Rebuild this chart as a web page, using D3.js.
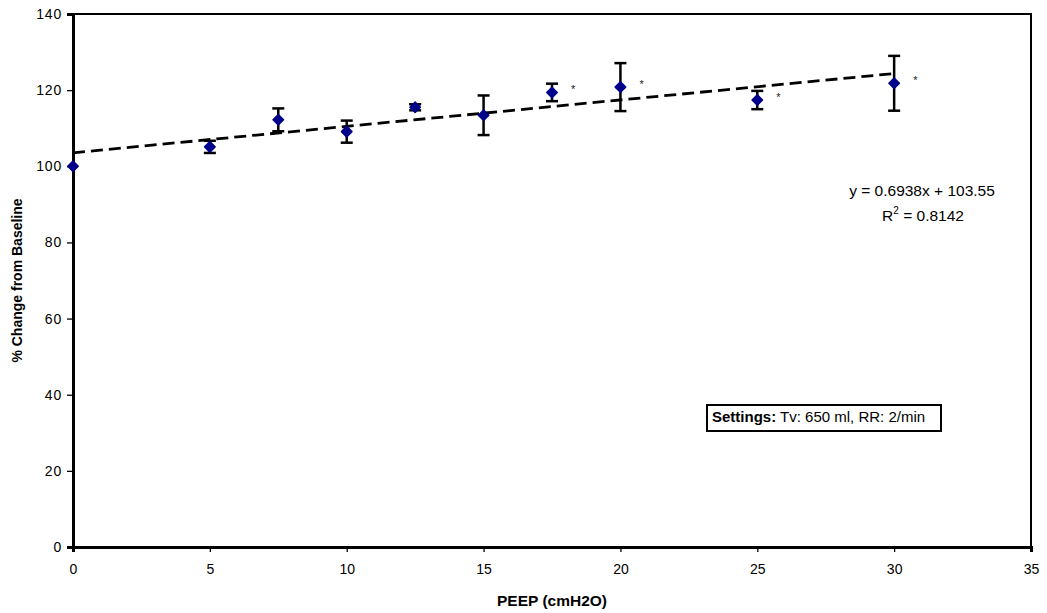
<!DOCTYPE html>
<html><head><meta charset="utf-8">
<script src="https://cdn.jsdelivr.net/npm/d3@7"></script>
<style>body{margin:0;background:#fff}svg{display:block}text{font-family:"Liberation Sans",Arial,sans-serif}</style>
</head><body><svg id="c" width="1047" height="613"></svg>
<script>
const peep = [0, 5, 7.5, 10, 12.5, 15, 17.5, 20, 25, 30];
const change = [100, 105.1, 112.2, 109.1, 115.5, 113.4, 119.4, 120.8, 117.4, 121.8];
const errorBar = [0, 1.6, 3.0, 2.9, 0.8, 5.2, 2.3, 6.3, 2.4, 7.2];
const significant = [false, false, false, false, false, false, true, true, true, true];
const xTicks = [0, 5, 10, 15, 20, 25, 30, 35];
const yTicks = [0, 20, 40, 60, 80, 100, 120, 140];
const slope = 0.6938, intercept = 103.55, r2 = "0.8142";

const svg = d3.select("#c");
const L = 73, R = 1031, T = 14, B = 547;
const x = d3.scaleLinear().domain([0, 35]).range([L, R]);
const y = d3.scaleLinear().domain([0, 140]).range([B, T]);

// frame
svg.append("rect").attr("x", L).attr("y", T).attr("width", R - L).attr("height", B - T)
  .attr("fill", "none").attr("stroke", "#000").attr("stroke-width", 2);

const yAxis = svg.append("g").attr("transform", `translate(${L},0)`)
  .call(d3.axisLeft(y).tickValues(yTicks).tickSize(6).tickPadding(5));
const xAxis = svg.append("g").attr("transform", `translate(0,${B})`)
  .call(d3.axisBottom(x).tickValues(xTicks).tickSize(5).tickPadding(12));
[yAxis, xAxis].forEach(a => {
  a.select(".domain").attr("stroke-width", 3);
  a.selectAll("line").attr("stroke-width", 1.3);
  a.selectAll("text").attr("font-size", 14).attr("fill", "#000");
});
yAxis.selectAll("text").attr("letter-spacing", 0.8);

// trendline
svg.append("line")
  .attr("x1", x(0)).attr("y1", y(intercept))
  .attr("x2", x(30)).attr("y2", y(slope * 30 + intercept))
  .attr("stroke", "#000").attr("stroke-width", 2.8).attr("stroke-dasharray", "12,6");

// error bars
const eb = svg.append("g").attr("stroke", "#000").attr("stroke-width", 2.5);
peep.forEach((p, i) => {
  if (!errorBar[i]) return;
  const cx = x(p), t = y(change[i] + errorBar[i]), b = y(change[i] - errorBar[i]);
  eb.append("line").attr("x1", cx).attr("x2", cx).attr("y1", t).attr("y2", b);
  eb.append("line").attr("x1", cx - 6).attr("x2", cx + 6).attr("y1", t).attr("y2", t);
  eb.append("line").attr("x1", cx - 6).attr("x2", cx + 6).attr("y1", b).attr("y2", b);
});

// markers
svg.append("g").selectAll("path").data(peep).join("path")
  .attr("transform", (d, i) => `translate(${x(d)},${y(change[i])})`)
  .attr("d", d3.symbol(d3.symbolDiamond2, 70))
  .attr("fill", "#00008b").attr("stroke", "#00008b").attr("stroke-width", 1.5)
  .attr("stroke-linejoin", "round");

// asterisks
svg.append("g").selectAll("text").data(peep.filter((d, i) => significant[i])).join("text")
  .attr("x", d => x(d) + 19)
  .attr("y", d => y(change[peep.indexOf(d)]) + 1)
  .attr("font-size", 11).attr("fill", "#222").text("*");

// equation
svg.append("text").attr("x", 922).attr("y", 196).attr("text-anchor", "middle")
  .attr("font-size", 15.5).text(`y = ${slope}x + ${intercept}`);
const rt = svg.append("text").attr("x", 923).attr("y", 221).attr("text-anchor", "middle").attr("font-size", 15.5);
rt.append("tspan").text("R");
rt.append("tspan").attr("dy", -7).attr("font-size", 10).text("2");
rt.append("tspan").attr("dy", 7).text(` = ${r2}`);

// settings box
svg.append("rect").attr("x", 707).attr("y", 405).attr("width", 234).attr("height", 26)
  .attr("fill", "#fff").attr("stroke", "#000").attr("stroke-width", 2);
const st = svg.append("text").attr("x", 712).attr("y", 422).attr("font-size", 15);
st.append("tspan").attr("font-weight", "bold").text("Settings:");
st.append("tspan").text(" Tv: 650 ml, RR: 2/min");

// axis titles
svg.append("text").attr("x", (L + R) / 2).attr("y", 606).attr("text-anchor", "middle")
  .attr("font-size", 15.5).attr("font-weight", "bold").text("PEEP (cmH2O)");
svg.append("text").attr("transform", `translate(22,${(T + B) / 2}) rotate(-90)`)
  .attr("text-anchor", "middle").attr("font-size", 14).attr("font-weight", "bold")
  .text("% Change from Baseline");
</script></body></html>
